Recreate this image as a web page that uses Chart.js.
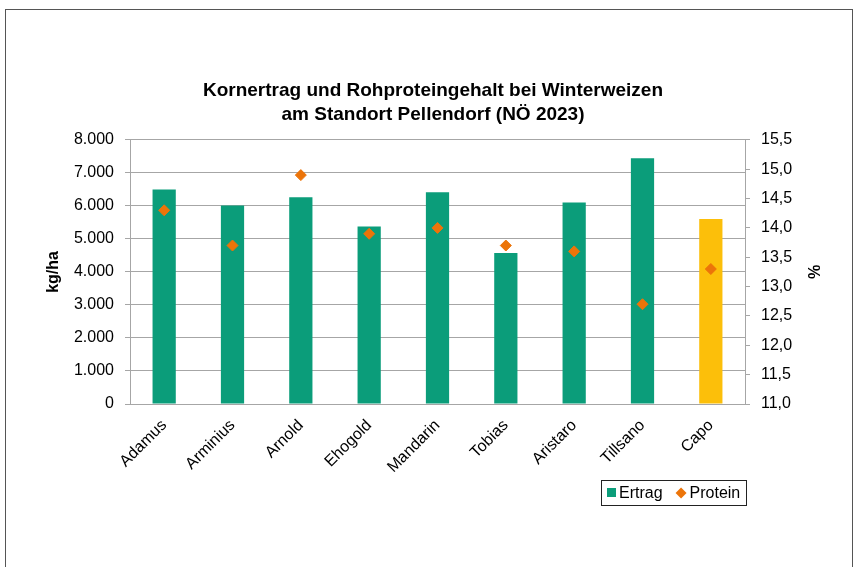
<!DOCTYPE html>
<html>
<head>
<meta charset="utf-8">
<script src="https://cdn.jsdelivr.net/npm/chart.js@4.4.0/dist/chart.umd.min.js"></script>
<style>
    html, body { margin: 0; padding: 0; background: #fff; overflow: hidden; }
    #wrap { position: relative; width: 859px; height: 567px; }
    #frame { position: absolute; left: 5px; top: 9px; width: 846px; height: 600px; border: 1px solid #555; }
    canvas { position: absolute; left: 0; top: 0; }
</style>
</head>
<body>
<div id="wrap">
    <div id="frame"></div>
    <canvas id="chart" width="859" height="567"></canvas>
</div>
<script>
const sorten = ['Adamus', 'Arminius', 'Arnold', 'Ehogold', 'Mandarin', 'Tobias', 'Aristaro', 'Tillsano', 'Capo'];
const ertrag = [6500, 6010, 6260, 5380, 6410, 4570, 6100, 7440, 5600];
const protein = [14.3, 13.7, 14.9, 13.9, 14.0, 13.7, 13.6, 12.7, 13.3];
const ertragTicks = [0, 1000, 2000, 3000, 4000, 5000, 6000, 7000, 8000];
const proteinTicks = [11.0, 11.5, 12.0, 12.5, 13.0, 13.5, 14.0, 14.5, 15.0, 15.5];

const green = '#0b9d7a';
const yellow = '#fcbf0a';
const orange = '#ec7409';
const gridGrey = '#a6a6a6';
const fontFam = '"Liberation Sans", Arial, Helvetica, sans-serif';

document.addEventListener('DOMContentLoaded', function () {
    const ctx = document.getElementById('chart').getContext('2d');

    // eigene Legende mit Rahmen, rechtsbündig unter der Zeichenfläche
    const boxLegend = {
        id: 'boxLegend',
        afterDraw(chart) {
            const c = chart.ctx;
            const items = [
                { text: chart.data.datasets[1].label, color: green, style: 'rect' },
                { text: chart.data.datasets[0].label, color: orange, style: 'rectRot' },
            ];
            c.save();
            c.font = '16px ' + fontFam;
            const widths = items.map((it) => c.measureText(it.text).width);
            const total = Math.round(6 + 11 + widths[0] + 14 + 14 + widths[1] + 6);
            const right = Math.round(chart.chartArea.right) + 1;
            const left = right - total;
            const top = 480;
            const h = 25;
            c.strokeStyle = '#222';
            c.lineWidth = 1;
            c.strokeRect(left + 0.5, top + 0.5, total, h);
            const cy = top + h / 2 + 0.5;
            let x = left + 6;
            items.forEach((it, i) => {
                c.fillStyle = it.color;
                if (it.style === 'rect') {
                    c.fillRect(x, cy - 5, 9, 9);
                    x += 12;
                } else {
                    c.beginPath();
                    c.moveTo(x + 5.5, cy - 5.5);
                    c.lineTo(x + 11, cy);
                    c.lineTo(x + 5.5, cy + 5.5);
                    c.lineTo(x, cy);
                    c.closePath();
                    c.fill();
                    x += 14;
                }
                c.fillStyle = '#000';
                c.textBaseline = 'middle';
                c.fillText(it.text, x, cy + 1);
                x += widths[i] + 13;
            });
            c.restore();
        },
    };

    new Chart(ctx, {
        type: 'bar',
        data: {
            labels: sorten,
            datasets: [
                {
                    label: 'Protein',
                    type: 'line',
                    data: protein,
                    yAxisID: 'y1',
                    showLine: false,
                    pointStyle: 'rectRot',
                    pointRadius: 5.5,
                    pointBackgroundColor: orange,
                    pointBorderColor: orange,
                    borderColor: orange,
                    backgroundColor: orange,
                    order: 0,
                },
                {
                    label: 'Ertrag',
                    data: ertrag,
                    yAxisID: 'y',
                    backgroundColor: sorten.map((s, i) => (i === sorten.length - 1 ? yellow : green)),
                    borderWidth: 0,
                    barPercentage: 0.34,
                    categoryPercentage: 1,
                    order: 1,
                },
            ],
        },
        options: {
            responsive: false,
            animation: false,
            layout: { padding: { left: 40, right: 33, top: 66, bottom: 93 } },
            scales: {
                x: {
                    grid: { display: false, drawTicks: false },
                    border: { display: true, color: gridGrey },
                    ticks: {
                        color: '#000',
                        font: { family: fontFam, size: 16 },
                        minRotation: 45,
                        maxRotation: 45,
                        padding: 12,
                    },
                    afterFit(scale) { scale.height = 70; },
                },
                y: {
                    position: 'left',
                    min: 0,
                    max: 8000,
                    afterBuildTicks(scale) { scale.ticks = ertragTicks.map((v) => ({ value: v })); },
                    grid: { color: gridGrey, tickLength: 5 },
                    border: { display: true, color: gridGrey },
                    ticks: {
                        color: '#000',
                        padding: 11,
                        font: { family: fontFam, size: 16 },
                        callback: (v) => String(v).replace(/\B(?=(\d{3})+(?!\d))/g, '.'),
                    },
                    title: {
                        display: true,
                        text: 'kg/ha',
                        color: '#000',
                        font: { family: fontFam, size: 16, weight: 'bold' },
                    },
                    afterFit(scale) { scale.width = 90; },
                },
                y1: {
                    position: 'right',
                    min: 11,
                    max: 15.5,
                    afterBuildTicks(scale) { scale.ticks = proteinTicks.map((v) => ({ value: v })); },
                    grid: { drawOnChartArea: false, color: gridGrey, tickLength: 5 },
                    border: { display: true, color: gridGrey },
                    ticks: {
                        color: '#000',
                        padding: 11,
                        font: { family: fontFam, size: 16 },
                        callback: (v) => v.toFixed(1).replace('.', ','),
                    },
                    title: {
                        display: true,
                        text: '%',
                        color: '#000',
                        font: { family: fontFam, size: 16, weight: 'bold' },
                    },
                    afterFit(scale) { scale.width = 81; },
                },
            },
            plugins: {
                title: {
                    display: true,
                    text: ['Kornertrag und Rohproteingehalt bei Winterweizen', 'am Standort Pellendorf (NÖ 2023)'],
                    color: '#000',
                    font: { family: fontFam, size: 19, weight: 'bold', lineHeight: 1.26 },
                    padding: { top: 13, bottom: 13 },
                },
                legend: { display: false },
                tooltip: { enabled: false },
            },
        },
        plugins: [boxLegend],
    });
});
</script>
</body>
</html>
